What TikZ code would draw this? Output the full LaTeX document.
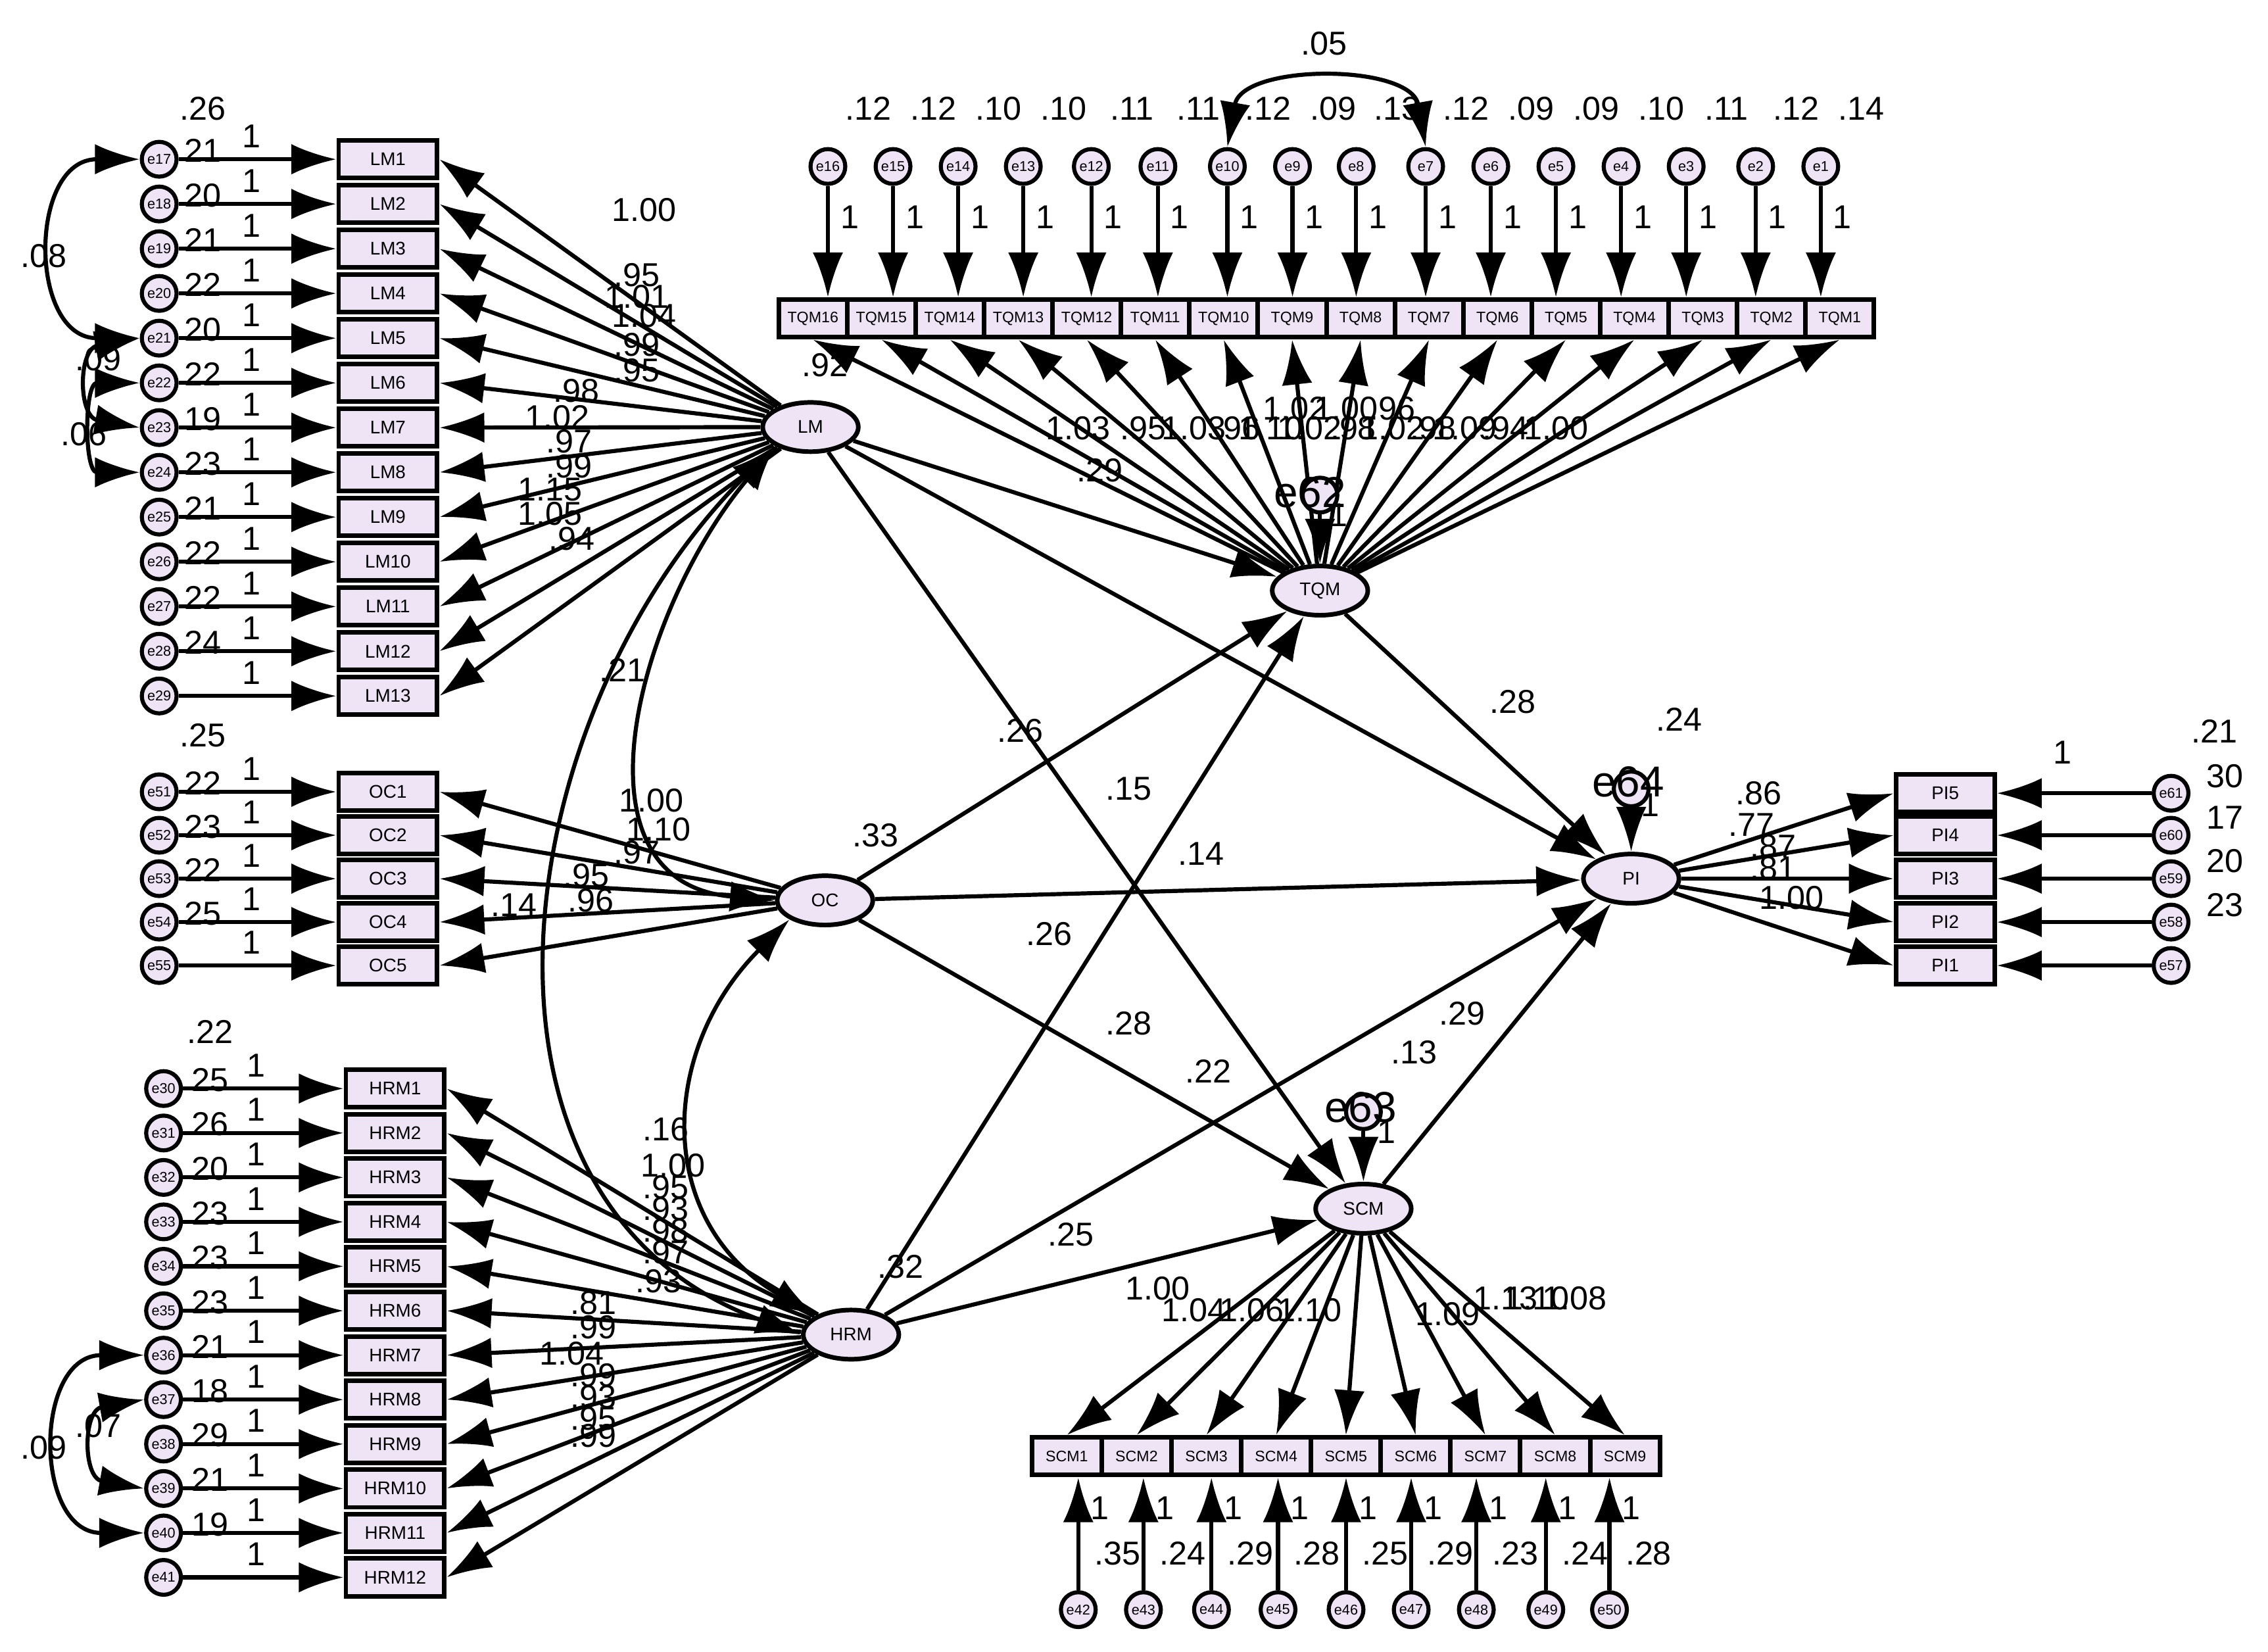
\documentclass[tikz,border=0pt]{standalone}
\usepackage{fontspec}
\setmainfont{Liberation Sans}
\usetikzlibrary{shapes.geometric,arrows.meta}
\definecolor{boxc}{HTML}{EEE4F5}
\begin{document}
\begin{tikzpicture}[x=0.01cm,y=-0.01cm,
  box/.style={draw,line width=0.9pt,fill=boxc,minimum width=0.68cm,minimum height=0.26cm,inner sep=0,font=\fontsize{3.6}{4}\selectfont},
  err/.style={circle,draw,line width=0.8pt,fill=boxc,minimum size=0.24cm,inner sep=0,font=\fontsize{2.8}{3}\selectfont},
  lat/.style={ellipse,draw,line width=0.9pt,fill=boxc,minimum width=0.66cm,minimum height=0.34cm,inner sep=0,font=\fontsize{3.6}{4}\selectfont},
  arr/.style={-{Latex[length=3.1mm,width=2.1mm]},line width=0.8pt},
  cov/.style={{Latex[length=3.1mm,width=2.1mm]}-{Latex[length=3.1mm,width=2.1mm]},line width=0.8pt},
  lab/.style={font=\fontsize{6.5}{7}\selectfont,inner sep=0},
  big/.style={font=\fontsize{8.5}{9}\selectfont,inner sep=0}]
\useasboundingbox (0,0) rectangle (1567,1141);
% latent
\node[lat] (LM) at (560,295) {LM};
\node[lat] (OC) at (570,622) {OC};
\node[lat] (HRM) at (588,922) {HRM};
\node[lat] (TQM) at (912,408) {TQM};
\node[lat] (PI) at (1127,607) {PI};
\node[lat] (SCM) at (942,835) {SCM};
% LM block
\foreach \v [count=\i] in {21,20,21,22,20,22,19,23,21,22,22,24,} {
  \pgfmathsetmacro\yy{110+(\i-1)*30.9}
  \pgfmathtruncatemacro\en{16+\i}
  \node[box] (LM\i) at (268,\yy) {LM\i};
  \node[err] (e\en) at (110,\yy) {e\en};
  \draw[arr] (e\en) -- (LM\i.west);
  \draw[arr] (LM) -- (LM\i.east);
  \node[lab] at (174,\yy-16) {1};
  \ifnum\i<13 \node[lab] at (140,\yy-6) {\v}; \fi
}
\node[lab] at (140,75) {.26};
\draw[cov] (e17.west) to[out=180,in=180,looseness=1.6] (e21.west);
\draw[cov] (e21.west) to[out=190,in=170,looseness=1.8] (e23.west);
\draw[cov] (e22.west) to[out=180,in=180,looseness=1.6] (e24.west);
\node[lab] at (30,177) {.08}; \node[lab] at (68,248) {.09}; \node[lab] at (58,300) {.06};
\foreach \p/\t in {{445,145}/1.00,{440,190}/.95,{440,205}/1.01,{445,218}/1.04,{440,238}/.99,{440,256}/.95,{398,270}/.98,{385,288}/1.02,{393,305}/.97,{393,322}/.99,{380,338}/1.15,{380,355}/1.05,{395,372}/.94}
  \node[lab] at (\p) {\t};
% OC block
\foreach \v [count=\i] in {22,23,22,25,} {
  \pgfmathsetmacro\yy{547+(\i-1)*30}
  \pgfmathtruncatemacro\en{50+\i}
  \node[box] (OC\i) at (268,\yy) {OC\i};
  \node[err] (e\en) at (110,\yy) {e\en};
  \draw[arr] (e\en) -- (OC\i.west);
  \draw[arr] (OC) -- (OC\i.east);
  \node[lab] at (174,\yy-16) {1};
  \ifnum\i<5 \node[lab] at (140,\yy-6) {\v}; \fi
}
\node[lab] at (140,508) {.25};
\foreach \p/\t in {{450,553}/1.00,{455,573}/1.10,{440,589}/.97,{405,605}/.95,{408,622}/.96,{355,625}/.14}
  \node[lab] at (\p) {\t};
% HRM block
\foreach \v [count=\i] in {25,26,20,23,23,23,21,18,29,21,19,} {
  \pgfmathsetmacro\yy{752+(\i-1)*30.7}
  \pgfmathtruncatemacro\en{29+\i}
  \node[box] (HRM\i) at (273,\yy) {HRM\i};
  \node[err] (e\en) at (113,\yy) {e\en};
  \draw[arr] (e\en) -- (HRM\i.west);
  \draw[arr] (HRM) -- (HRM\i.east);
  \node[lab] at (177,\yy-16) {1};
  \ifnum\i<12 \node[lab] at (145,\yy-6) {\v}; \fi
}
\node[lab] at (145,713) {.22};
\draw[cov] (e36.west) to[out=180,in=180,looseness=1.6] (e40.west);
\draw[cov] (e37.west) to[out=190,in=170,looseness=1.8] (e39.west);
\node[lab] at (30,1000) {.09}; \node[lab] at (68,985) {.07};
\foreach \p/\t in {{465,805}/1.00,{460,820}/.95,{460,835}/.93,{460,850}/.98,{460,865}/.97,{455,885}/.93,{410,900}/.81,{410,917}/.99,{395,935}/1.04,{410,950}/.99,{410,965}/.93,{410,980}/.95,{410,992}/.99}
  \node[lab] at (\p) {\t};
% TQM block
\foreach \j in {1,...,16} {
  \pgfmathtruncatemacro\k{17-\j}
  \node[box,minimum width=0.473cm,font=\fontsize{3}{3}\selectfont] (TQM\k) at ({538+47.3*(\j-0.5)},220) {TQM\k};
  \draw[arr] (TQM) -- (TQM\k.south);
}
\foreach \x/\n/\v in {572/16/.12,617/15/.12,662/14/.10,707/13/.10,754/12/.11,800/11/.11,848/10/.12,893/9/.09,937/8/.13,985/7/.12,1030/6/.09,1075/5/.09,1120/4/.10,1165/3/.11,1213/2/.12,1258/1/.14} {
  \node[err] (e\n) at (\x,115) {e\n};
  \draw[arr] (e\n) -- (e\n |- TQM\n.north);
  \node[lab] at (\x+15,150) {1};
  \node[lab] at (\x+28,75) {\v};
}
\draw[cov] (e10.north) to[out=80,in=100,looseness=1.1] (e7.north);
\node[lab] at (915,30) {.05};
\foreach \p/\t in {{570,252}/.92,{745,296}/1.03,{790,296}/.95,{825,296}/1.03,{855,296}/.96,{878,296}/1.10,{905,296}/1.02,{935,296}/.98,{962,296}/1.02,{990,296}/.98,{1012,296}/1.09,{1040,296}/.94,{1075,296}/1.00,{895,282}/1.02,{930,282}/1.00,{962,282}/.96}
  \node[lab] at (\p) {\t};
\node[err] (e62) at (912,342) {};
\node[big] at (905,340) {e62};
\draw[arr] (e62) -- (TQM);
\node[lab] at (925,356) {1};
% PI block
\foreach \k/\yy/\en/\v in {5/548/61/30,4/577/60/17,3/607/59/20,2/637/58/23,1/667/57/} {
  \node[box] (PI\k) at (1344,\yy) {PI\k};
  \node[err] (e\en) at (1500,\yy) {e\en};
  \draw[arr] (e\en) -- (PI\k.east);
  \draw[arr] (PI) -- (PI\k.west);
  \node[lab] at (1537,\yy-12) {\v};
}
\node[lab] at (1530,505) {.21}; \node[lab] at (1425,520) {1};
\foreach \p/\t in {{1215,548}/.86,{1210,570}/.77,{1225,585}/.87,{1225,600}/.81,{1238,620}/1.00}
  \node[lab] at (\p) {\t};
\node[err] (e64) at (1127,545) {};
\node[big] at (1125,540) {e64};
\draw[arr] (e64) -- (PI);
\node[lab] at (1140,556) {1};
\node[lab] at (1160,497) {.24};
% SCM block
\foreach \j in {1,...,9} {
  \node[box,minimum width=0.482cm,font=\fontsize{3}{3}\selectfont] (SCM\j) at ({713+48.2*(\j-0.5)},1006) {SCM\j};
  \draw[arr] (SCM) -- (SCM\j.north);
}
\foreach \x/\v [count=\j] in {745/.35,790/.24,837/.29,883/.28,930/.25,975/.29,1020/.23,1068/.24,1112/.28} {
  \pgfmathtruncatemacro\en{41+\j}
  \node[err] (e\en) at (\x,1112) {e\en};
  \draw[arr] (e\en) -- (e\en |- SCM\j.south);
  \node[lab] at (\x+15,1042) {1};
  \node[lab] at (\x+27,1073) {\v};
}
\foreach \p/\t in {{800,890}/1.00,{825,905}/1.04,{865,905}/1.06,{905,905}/1.10,{1000,908}/1.09,{1040,897}/1.13,{1062,897}/1.10,{1088,897}/1.08}
  \node[lab] at (\p) {\t};
\node[err] (e63) at (942,768) {};
\node[big] at (940,765) {e63};
\draw[arr] (e63) -- (SCM);
\node[lab] at (958,782) {1};
\node[lab] at (977,727) {.13};
% structural
\draw[arr] (LM) -- (TQM);
\draw[arr] (LM) -- (PI);
\draw[arr] (LM) -- (SCM);
\draw[arr] (OC) -- (TQM);
\draw[arr] (OC) -- (PI);
\draw[arr] (OC) -- (SCM);
\draw[arr] (HRM) -- (TQM);
\draw[arr] (HRM) -- (PI);
\draw[arr] (HRM) -- (SCM);
\draw[arr] (TQM) -- (PI);
\draw[arr] (SCM) -- (PI);
\draw[cov] (LM.south west) to[out=230,in=175,looseness=1.2] (OC.west);
\draw[cov] (OC.south west) to[out=225,in=150,looseness=1.2] (HRM.north west);
\draw[cov] (LM.south west) to[out=225,in=160,looseness=1.1] (HRM.west);
\foreach \p/\t in {{760,325}/.29,{705,505}/.26,{780,545}/.15,{830,590}/.14,{725,645}/.26,{780,707}/.28,{835,740}/.22,{740,853}/.25,{1045,485}/.28,{1010,700}/.29,{430,463}/.21,{460,780}/.16,{605,577}/.33,{622,875}/.32}
  \node[lab] at (\p) {\t};
\end{tikzpicture}
\end{document}
